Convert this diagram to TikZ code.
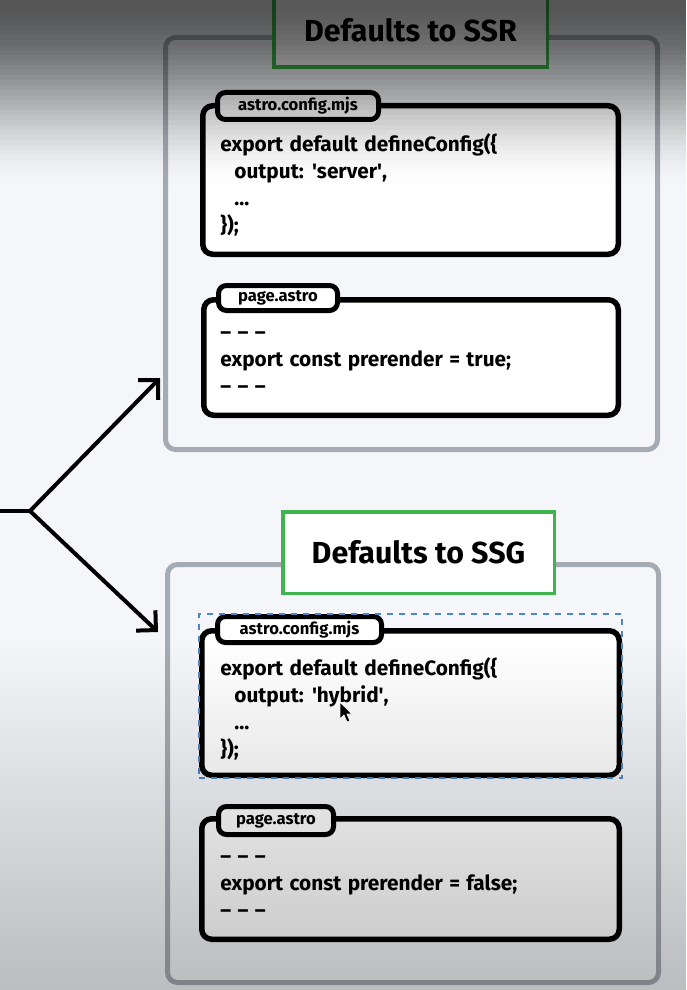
\documentclass[tikz,border=0pt]{standalone}
\usepackage{fontspec}
\setmainfont{Fira Sans}
\usetikzlibrary{positioning,arrows.meta,fit}
\definecolor{bgcol}{HTML}{F4F6F9}
\definecolor{framegray}{HTML}{A5ABB2}
\definecolor{titlegreen}{HTML}{3DB54C}
\definecolor{selblue}{HTML}{4A86D0}
\newcommand{\dashrow}{\textendash\ \textendash\ \textendash}
\newcommand{\codespacing}{\spaceskip=3.2pt plus 1pt\relax}

\begin{document}
\begin{tikzpicture}[x=0.5pt,y=-0.5pt]
	\tikzstyle{outerbox} = [rectangle, draw=framegray, line width=2.5pt, rounded corners=5pt, fill=bgcol]
	\tikzstyle{titlebox} = [rectangle, draw=titlegreen, line width=1.75pt, fill=white, font=\fontsize{15.2}{17}\selectfont\bfseries]
	\tikzstyle{codebox} = [rectangle, draw=black, line width=2.75pt, rounded corners=5pt, fill=white]
	\tikzstyle{filetab} = [rectangle, draw=black, line width=2.5pt, rounded corners=4pt, fill=white, inner sep=0pt, font=\fontsize{8.3}{9}\selectfont\bfseries]
	\tikzstyle{codetext} = [anchor=north west, inner sep=0pt, align=left, font=\fontsize{10.4}{13.5}\selectfont\bfseries\codespacing]
	\tikzstyle{splitarrow} = [line width=2pt, -{Straight Barb[length=7pt, width=14pt]}]

	\fill[bgcol] (0,0) rectangle (686,990);
	\useasboundingbox (0,0) rectangle (686,990);

	\node[outerbox, minimum width=246pt, minimum height=206pt] (SSR) at (411.5,243.5) {};
	\node[titlebox, minimum width=136.75pt, minimum height=36.75pt] (SSRtitle) at (410.5,30.5) {Defaults to SSR};

	\node[codebox, minimum width=207.75pt, minimum height=74.25pt] (cfg1) at (410.5,180) {};
	\node[filetab, minimum width=80.5pt, minimum height=13.5pt] (tab1) at (298,106) {astro.config.mjs};
	\node[codetext] (cfg1txt) at (220,132) {\strut export default defineConfig(\{\\
		\hspace*{7pt}output: \textquotesingle server\textquotesingle,\\
		\hspace*{7pt}...\\
		\});};

	\node[codebox, minimum width=207.25pt, minimum height=57.75pt] (page1) at (411,357.5) {};
	\node[filetab, minimum width=59.5pt, minimum height=12.5pt] (tab2) at (278,298) {page.astro};
	\node[codetext] (page1txt) at (220,320) {\strut \dashrow\\
		export const prerender = true;\\
		\dashrow};

	\node[outerbox, minimum width=245.5pt, minimum height=209pt] (SSG) at (413,773.5) {};
	\node[titlebox, minimum width=135.75pt, minimum height=40.75pt] (SSGtitle) at (418.5,552.5) {Defaults to SSG};

	\node[codebox, minimum width=208.75pt, minimum height=72.25pt] (cfg2) at (410.5,703) {};
	\node[filetab, minimum width=82pt, minimum height=13pt] (tab3) at (299.5,629.5) {astro.config.mjs};
	\node[codetext] (cfg2txt) at (220,656) {\strut export default defineConfig(\{\\
		\hspace*{7pt}output: \textquotesingle hybrid\textquotesingle,\\
		\hspace*{7pt}...\\
		\});};
	\node[draw=selblue, dashed, line width=0.6pt, inner sep=0pt, fit=(cfg2)(tab3)] (sel) {};

	\node[codebox, minimum width=208.75pt, minimum height=60.25pt] (page2) at (410.5,879) {};
	\node[filetab, minimum width=57.5pt, minimum height=14pt] (tab4) at (276,820.5) {page.astro};
	\node[codetext] (page2txt) at (220,844) {\strut \dashrow\\
		export const prerender = false;\\
		\dashrow};

	% mouse pointer
	\filldraw[fill=black, draw=white, line width=0.4pt, line join=round]
		(340,702) -- (340,719) -- (344,715) -- (347,722) -- (350,721) -- (347,714) -- (352,714) -- cycle;

	\coordinate (in) at (0,511);
	\coordinate (split) at (30,511);
	\coordinate (ssrin) at (160,378);
	\coordinate (ssgin) at (158,632);
	\draw[line width=2pt] (in) -- (split);
	\draw[splitarrow] (split) -- (ssrin);
	\draw[splitarrow] (split) -- (ssgin);

	% screen shading, top and bottom
	\foreach \i in {0,...,37}{
		\pgfmathsetmacro{\t}{(\i*5+2.5)/190}
		\pgfmathsetmacro{\op}{0.65*(1-(3*\t*\t-2*\t*\t*\t))}
		\fill[black, fill opacity=\op] (0,\i*5) rectangle (686,\i*5+5);
	}
	\foreach \i in {0,...,69}{
		\pgfmathsetmacro{\op}{0.23*(\i*5+2.5)/350}
		\fill[black, fill opacity=\op] (0,640+\i*5) rectangle (686,645+\i*5);
	}
\end{tikzpicture}
\end{document}
